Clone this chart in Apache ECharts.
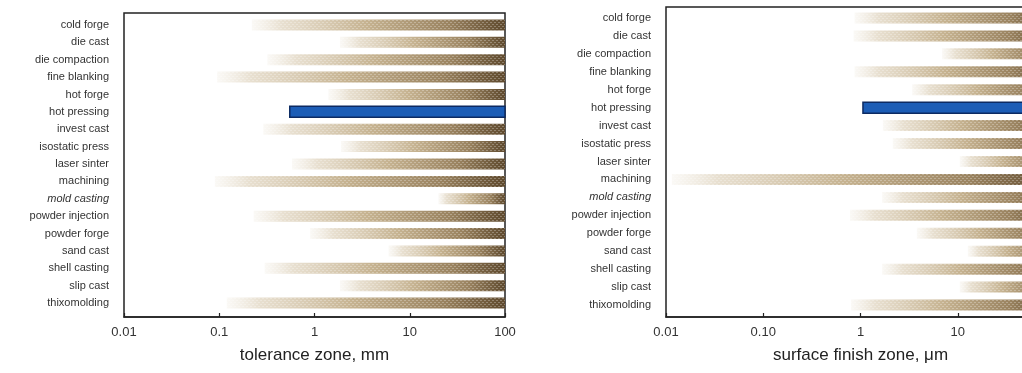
<!DOCTYPE html>
<html>
<head>
<meta charset="utf-8">
<script src="https://cdn.jsdelivr.net/npm/echarts@6/dist/echarts.min.js"></script>
<style>
html,body{margin:0;padding:0;background:#fff;}
#chart{width:1022px;height:373px;}
</style>
</head>
<body>
<div id="chart"></div>
<script>
const categories = ['cold forge','die cast','die compaction','fine blanking','hot forge','hot pressing','invest cast','isostatic press','laser sinter','machining','mold casting','powder injection','powder forge','sand cast','shell casting','slip cast','thixomolding'];
const toleranceStart = [0.22, 1.85, 0.32, 0.095, 1.4, 0.55, 0.29, 1.9, 0.58, 0.09, 20, 0.23, 0.9, 6, 0.3, 1.85, 0.12];
const toleranceEnd   = [100,100,100,100,100,100,100,100,100,100,100,100,100,100,100,100,100];
const surfaceStart = [0.87, 0.85, 6.9, 0.87, 3.4, 1.06, 1.7, 2.15, 10.5, 0.0115, 1.67, 0.78, 3.8, 12.7, 1.67, 10.5, 0.8];
const surfaceEnd   = [100,100,100,100,100,100,100,100,100,100,100,100,100,100,100,100,100];
const highlighted = 'hot pressing';
const toleranceTicks = ['0.01','0.1','1','10','100'];
const surfaceTicks = ['0.01','0.10','1','10','100'];

const chart = echarts.init(document.getElementById('chart'));

// halftone texture
const pat = document.createElement('canvas');
pat.width = 4; pat.height = 4;
const pc = pat.getContext('2d');
pc.fillStyle = 'rgba(255,255,255,0.28)';
pc.fillRect(0,0,1,1); pc.fillRect(2,2,1,1); pc.fillRect(1,0,1,1); pc.fillRect(3,2,1,1);

function brownGradient() {
  return new echarts.graphic.LinearGradient(0,0,1,0,[
    {offset:0, color:'rgba(232,224,208,0.2)'},
    {offset:0.12, color:'rgba(222,210,188,0.7)'},
    {offset:0.45, color:'#c6b391'},
    {offset:0.78, color:'#9a8360'},
    {offset:1, color:'#5f4a2e'}
  ]);
}

function makeRender(barH) {
  return function(params, api) {
    const s = api.value(0), idx = api.value(1), e = api.value(2);
    const p0 = api.coord([s, idx]);
    const p1 = api.coord([e, idx]);
    const shape = {x:p0[0], y:p0[1]-barH/2, width:p1[0]-p0[0], height:barH};
    if (categories[idx] === highlighted) {
      return {type:'rect', shape:shape, style:{fill:'#1c5db6', stroke:'#0c2a62', lineWidth:1.5}};
    }
    return {type:'group', children:[
      {type:'rect', shape:shape, style:{fill:brownGradient()}},
      {type:'rect', shape:shape, style:{fill:{image:pat, repeat:'repeat'}}}
    ]};
  };
}

function buildData(starts, ends) {
  return starts.map((s,i)=>[s, i, ends[i]]);
}

const labelFont = {fontFamily:'Liberation Sans, Arial, sans-serif', fontSize:11, color:'#333'};
function catLabel(v) { return v === 'mold casting' ? '{it|' + v + '}' : '{n|' + v + '}'; }
const rich = {it:Object.assign({fontStyle:'italic'}, labelFont), n:Object.assign({}, labelFont)};

function tickFormatter(list) {
  return function(v) { const k = Math.round(Math.log10(v)) + 2; return list[k] !== undefined ? list[k] : ''; };
}

function frameX(grid, ticks, name) {
  return {type:'log', logBase:10, gridIndex:grid, min:0.01, max:100,
    axisLine:{show:true, lineStyle:{color:'#222', width:1.5}},
    axisTick:{show:true, inside:true, length:4, lineStyle:{color:'#222', width:1.2}},
    minorTick:{show:false}, splitLine:{show:false},
    axisLabel:{formatter:tickFormatter(ticks), margin:9, fontSize:13, color:'#333', fontFamily:'Liberation Sans, Arial, sans-serif', showMinLabel:true, showMaxLabel:true},
    name:name, nameLocation:'middle', nameGap:30,
    nameTextStyle:{fontSize:17, color:'#222', fontFamily:'Liberation Sans, Arial, sans-serif'}};
}
function dataX(grid) {
  return {type:'log', logBase:10, gridIndex:grid, min:0.01, max:100, show:false, splitLine:{show:false}};
}
function dataY(grid) {
  return {type:'category', gridIndex:grid, data:categories, inverse:true,
    axisLine:{show:false}, axisTick:{show:false}, splitLine:{show:false},
    axisLabel:{formatter:catLabel, rich:rich, margin:15, interval:0}};
}

chart.setOption({
  animation:false,
  backgroundColor:'#fff',
  grid:[
    {left:124, top:13, width:381, height:304, show:true, borderColor:'#222', borderWidth:1.5, backgroundColor:'transparent', outerBoundsMode:'none', containLabel:false},
    {left:124, top:16.3, width:381, height:295.4, outerBoundsMode:'none', containLabel:false},
    {left:666, top:7, width:389, height:310, show:true, borderColor:'#222', borderWidth:1.5, backgroundColor:'transparent', outerBoundsMode:'none', containLabel:false},
    {left:666, top:9, width:389, height:305, outerBoundsMode:'none', containLabel:false}
  ],
  xAxis:[
    frameX(0, toleranceTicks, 'tolerance zone, mm'),
    dataX(1),
    frameX(2, surfaceTicks, 'surface finish zone, \u03bcm'),
    dataX(3)
  ],
  yAxis:[
    {type:'value', gridIndex:0, show:false, min:0, max:1, splitLine:{show:false}},
    dataY(1),
    {type:'value', gridIndex:2, show:false, min:0, max:1, splitLine:{show:false}},
    dataY(3)
  ],
  series:[
    {type:'custom', xAxisIndex:1, yAxisIndex:1, renderItem:makeRender(11), encode:{x:[0,2], y:1}, data:buildData(toleranceStart, toleranceEnd)},
    {type:'custom', xAxisIndex:3, yAxisIndex:3, renderItem:makeRender(11), encode:{x:[0,2], y:1}, data:buildData(surfaceStart, surfaceEnd)}
  ]
});
</script>
</body>
</html>
